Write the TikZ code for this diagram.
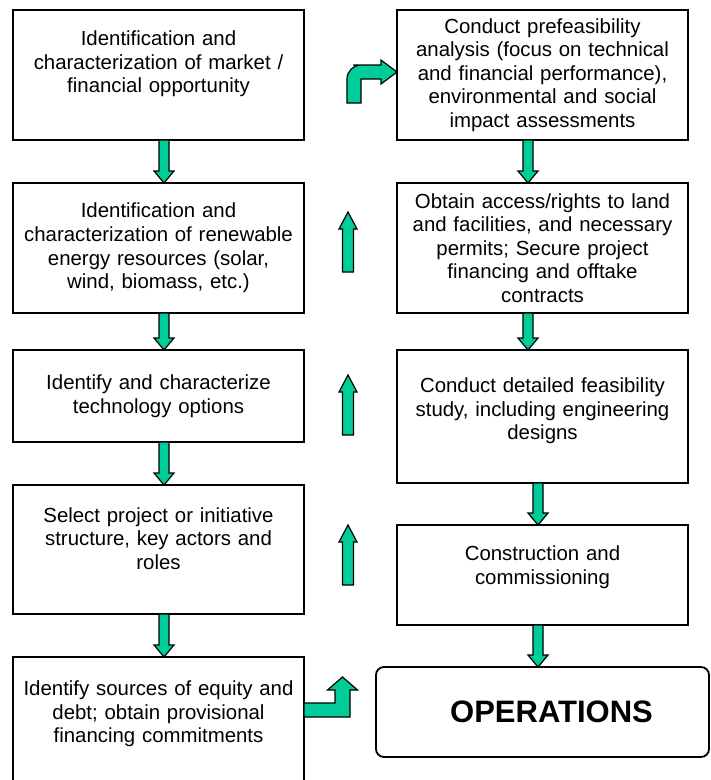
\documentclass[tikz,border=0pt]{standalone}
\usepackage{fontspec}
\setmainfont{Liberation Sans}
\usetikzlibrary{positioning, calc}
\definecolor{arrowgreen}{HTML}{00CC99}

% empty space under the last line of a box text, lifts the text up
\newcommand{\padbelow}[1]{\par\nointerlineskip\vbox to #1{}}
% fat arrow from the bottom of one box to the top of the next, at a given x
\newcommand{\blockdown}[3]{%
  \draw[blockarr] let \p1=(#1,0), \p2=(#2.south), \p3=(#3.north) in
    (\x1-5,\y2) -- (\x1+5,\y2) -- (\x1+5,\y3+12) -- (\x1+10,\y3+12) -- (\x1,\y3)
    -- (\x1-10,\y3+12) -- (\x1-5,\y3+12) -- cycle;}
% free-standing fat arrow pointing up: x, tip, tail
\newcommand{\blockup}[3]{%
  \draw[blockarr] (#1-5.5,#3) -- (#1+5.5,#3) -- (#1+5.5,#2+17) -- (#1+9,#2+17)
    -- (#1,#2) -- (#1-9,#2+17) -- (#1-5.5,#2+17) -- cycle;}

\begin{document}
\begin{tikzpicture}[x=1pt, y=-1pt,
    every node/.style={font={\fontsize{20.4}{23.6}\selectfont}},
    stepbox/.style={rectangle, draw, line width=1.8pt, outer sep=0pt, minimum width=291pt,
                    text width=285pt, inner xsep=3pt, align=center},
    opsbox/.style={rectangle, draw, line width=1.8pt, outer sep=0pt, rounded corners=8pt,
                   minimum width=333pt, minimum height=90pt,
                   font={\bfseries\fontsize{31}{37}\selectfont}},
    blockarr/.style={draw=black, line width=1.2pt, fill=arrowgreen, line join=miter}
]
    \clip (0,0) rectangle (711,780);

    % left column
    \node[stepbox, minimum height=130pt, anchor=north west] (market) at (13,10)
        {Identification and\\characterization of market /\\financial opportunity\padbelow{22pt}};
    \node[stepbox, minimum height=130pt, below=43pt of market] (resources)
        {Identification and\\characterization of renewable\\energy resources (solar,\\wind, biomass, etc.)};
    \node[stepbox, minimum height=92pt, below=37pt of resources] (techopt)
        {Identify and characterize\\technology options};
    \node[stepbox, minimum height=129pt, below=43pt of techopt] (structure)
        {Select project or initiative\\structure, key actors and\\roles\padbelow{22pt}};
    \node[stepbox, minimum height=140pt, below=43pt of structure] (equity)
        {Identify sources of equity and\\debt; obtain provisional\\financing commitments\padbelow{26pt}};

    % right column
    \node[stepbox, minimum height=130pt, anchor=north west] (prefeas) at (397,10)
        {Conduct prefeasibility\\analysis (focus on technical\\and financial performance),\\environmental and social\\impact assessments};
    \node[stepbox, minimum height=130pt, below=43pt of prefeas] (permits)
        {Obtain access/rights to land\\and facilities, and necessary\\permits; Secure project\\financing and offtake\\contracts};
    \node[stepbox, minimum height=133pt, below=37pt of permits] (feasibility)
        {Conduct detailed feasibility\\study, including engineering\\designs\padbelow{11pt}};
    \node[stepbox, minimum height=100pt, below=42pt of feasibility] (construct)
        {Construction and\\commissioning\padbelow{15pt}};
    \node[opsbox, below=42pt of construct] (ops) {\hspace*{18pt}OPERATIONS};

    \blockdown{164}{market}{resources}
    \blockdown{164}{resources}{techopt}
    \blockdown{164}{techopt}{structure}
    \blockdown{164}{structure}{equity}

    \blockdown{528}{prefeas}{permits}
    \blockdown{528}{permits}{feasibility}
    \blockdown{538}{feasibility}{construct}
    \blockdown{538}{construct}{ops}

    \blockup{348}{212}{272}
    \blockup{348}{375}{435}
    \blockup{348}{525}{585}

    % bent arrows between the columns
    \coordinate (bendstart) at (354,103);
    \draw[blockarr] let \p1=(bendstart), \p2=(prefeas.west) in
        (\x1-7,\y1) {[rounded corners=14pt] -- (\x1-7,\y2+10) -- (\x2-30,\y2+10)}
        -- (\x2-16,\y2+10) -- (\x2-16,\y2+15) -- (\x2,\y2+3) -- (\x2-16,\y2-9)
        -- (\x2-16,\y2-4) -- (\x1+7,\y2-4) -- (\x1+7,\y1) -- cycle;

    \coordinate (bendtip) at (342.5,677);
    \draw[blockarr] let \p1=(equity.east), \p2=(bendtip) in
        (\x1,\y2-26) -- (\x2-7.5,\y2-26) -- (\x2-7.5,\y2-13) -- (\x2-15,\y2-13)
        -- (\x2,\y2) -- (\x2+15,\y2-13) -- (\x2+7.5,\y2-13) -- (\x2+7.5,\y2-40)
        -- (\x1,\y2-40) -- cycle;
\end{tikzpicture}
\end{document}
